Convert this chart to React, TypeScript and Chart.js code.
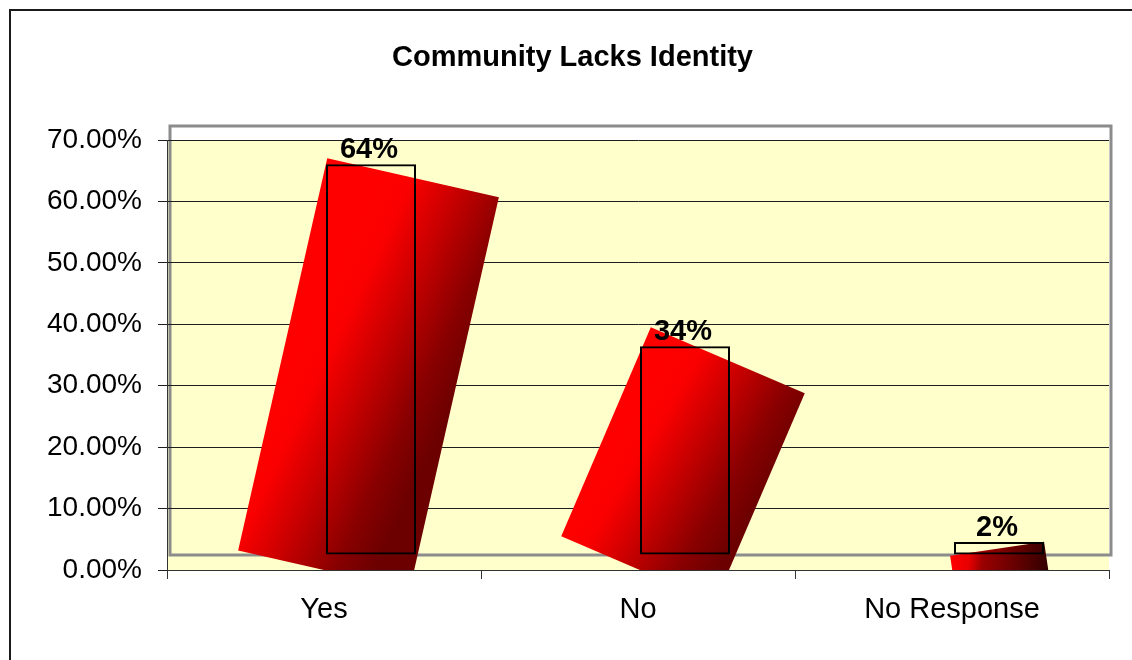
import React, { useEffect, useRef } from 'react';
import { Chart, registerables } from 'chart.js';

Chart.register(...registerables);

// ---- data ----
const chartTitle = 'Community Lacks Identity';
const categories = ['Yes', 'No', 'No Response'];
const responseShare = [0.636, 0.34, 0.021];
const yAxisMin = 0;
const yAxisMax = 0.7;
const yAxisStep = 0.1;

// ---- styles ----
const FONT = '"Liberation Sans", Arial, Helvetica, sans-serif';
const BAR_SHIFT = { x: 47, y: -15 };
const ROTATED_FILLS = [
  { dx: -2.5, dy: 14.5, width: 176, extraH: 12, angle: 12.8, grad: 'h' },
  { dx: -2, dy: 14.5, width: 167.5, extraH: 19, angle: 23.2, grad: 'h' },
  { dx: 1, dy: 20, width: 95, extraH: 27, angle: -8.5, grad: 'd' },
];

const excelLook = {
  id: 'excelLook',
  beforeDraw(chart: any) {
    const { ctx, chartArea: a } = chart;
    ctx.save();
    // outer chart border
    ctx.strokeStyle = '#1a1a1a';
    ctx.lineWidth = 2;
    ctx.beginPath();
    ctx.moveTo(10, chart.height + 5);
    ctx.lineTo(10, 10);
    ctx.lineTo(chart.width + 5, 10);
    ctx.stroke();
    // plot area
    ctx.fillStyle = '#FFFFCC';
    ctx.fillRect(a.left, a.top, a.right - a.left, a.bottom - a.top);
    // wall frame
    ctx.strokeStyle = '#8c8c8c';
    ctx.lineWidth = 3;
    ctx.strokeRect(a.left + 3, a.top - 14, a.right - a.left - 1, a.bottom - a.top + 14 + BAR_SHIFT.y);
    ctx.restore();
  },
  beforeDatasetsDraw(chart: any) {
    const { ctx, chartArea: a } = chart;
    const meta = chart.getDatasetMeta(0);
    ctx.save();
    ctx.beginPath();
    ctx.rect(a.left, a.top, a.right - a.left, a.bottom - a.top);
    ctx.clip();
    meta.data.forEach((el: any, i: number) => {
      const f = ROTATED_FILLS[i];
      if (!f) return;
      const { x, y, base } = el.getProps(['x', 'y', 'base'], true);
      const cx = x + BAR_SHIFT.x + f.dx;
      const cy = (y + base) / 2 + BAR_SHIFT.y + f.dy;
      const h = base - y + f.extraH;
      const w = f.width;
      ctx.save();
      ctx.translate(cx, cy);
      ctx.rotate((f.angle * Math.PI) / 180);
      let g;
      if (f.grad === 'h') {
        g = ctx.createLinearGradient(-w / 2, -h * 0.05, w / 2, h * 0.05);
        g.addColorStop(0, '#ff0000');
        g.addColorStop(0.25, '#fb0000');
        g.addColorStop(0.5, '#c80000');
        g.addColorStop(0.8, '#880000');
        g.addColorStop(1, '#6c0000');
      } else {
        g = ctx.createLinearGradient(-w / 2, -h / 2 + 6, w / 2, h / 2 - 8);
        g.addColorStop(0, '#ff0000');
        g.addColorStop(0.18, '#e80000');
        g.addColorStop(0.32, '#9a0000');
        g.addColorStop(1, '#300000');
      }
      ctx.fillStyle = g;
      ctx.fillRect(-w / 2, -h / 2, w, h);
      ctx.restore();
    });
    ctx.restore();
    ctx.save();
    ctx.translate(BAR_SHIFT.x, BAR_SHIFT.y);
  },
  afterDatasetsDraw(chart: any) {
    const { ctx } = chart;
    const meta = chart.getDatasetMeta(0);
    const values = chart.data.datasets[0].data as number[];
    ctx.fillStyle = '#000';
    ctx.font = `bold 29px ${FONT}`;
    ctx.textAlign = 'center';
    ctx.textBaseline = 'alphabetic';
    meta.data.forEach((el: any, i: number) => {
      const { x, y } = el.getProps(['x', 'y'], true);
      ctx.fillText(Math.round(values[i] * 100) + '%', x - 2, y - 6);
    });
    ctx.restore();
  },
};

export default function App() {
  const ref = useRef<HTMLCanvasElement | null>(null);

  useEffect(() => {
    if (!ref.current) return;
    const chart = new Chart(ref.current, {
      type: 'bar',
      data: {
        labels: categories,
        datasets: [
          {
            data: responseShare,
            backgroundColor: 'rgba(0,0,0,0)',
            borderColor: '#000',
            borderWidth: 2,
            borderSkipped: false,
            barPercentage: 90 / 314,
            categoryPercentage: 1,
            clip: false as any,
          },
        ],
      },
      options: {
        responsive: false,
        animation: false,
        devicePixelRatio: 1,
        events: [],
        layout: { padding: { left: 36, right: 23, top: 0, bottom: 0 } },
        plugins: {
          legend: { display: false },
          tooltip: { enabled: false },
          title: {
            display: true,
            text: chartTitle,
            color: '#000',
            font: { family: FONT, size: 29, weight: 'bold' },
            padding: { top: 41, bottom: 64.2 },
          },
        },
        scales: {
          x: {
            type: 'category',
            afterFit: (s: any) => {
              s.height = 90;
            },
            grid: {
              display: true,
              drawOnChartArea: false,
              drawTicks: true,
              tickLength: 9,
              color: '#333',
              offset: true,
            },
            border: { display: true, color: '#333', width: 1 },
            ticks: {
              color: '#000',
              font: { family: FONT, size: 29 },
              padding: 14,
              maxRotation: 0,
              autoSkip: false,
            },
          },
          y: {
            min: yAxisMin,
            max: yAxisMax,
            afterFit: (s: any) => {
              s.width = 131;
            },
            grid: {
              color: '#1e1e1e',
              lineWidth: 1,
              drawTicks: true,
              tickLength: 9,
            },
            border: { display: true, color: '#333', width: 1 },
            ticks: {
              stepSize: yAxisStep,
              color: '#000',
              font: { family: FONT, size: 28 },
              padding: 16,
              callback: (v: any) => (Number(v) * 100).toFixed(2) + '%',
            },
          },
        },
      },
      plugins: [excelLook],
    } as any);
    return () => chart.destroy();
  }, []);

  return (
    <div style={{ position: 'absolute', left: 0, top: 0, width: 1132, height: 660, background: '#fff' }}>
      <canvas ref={ref} width={1132} height={660} style={{ display: 'block' }} />
    </div>
  );
}
